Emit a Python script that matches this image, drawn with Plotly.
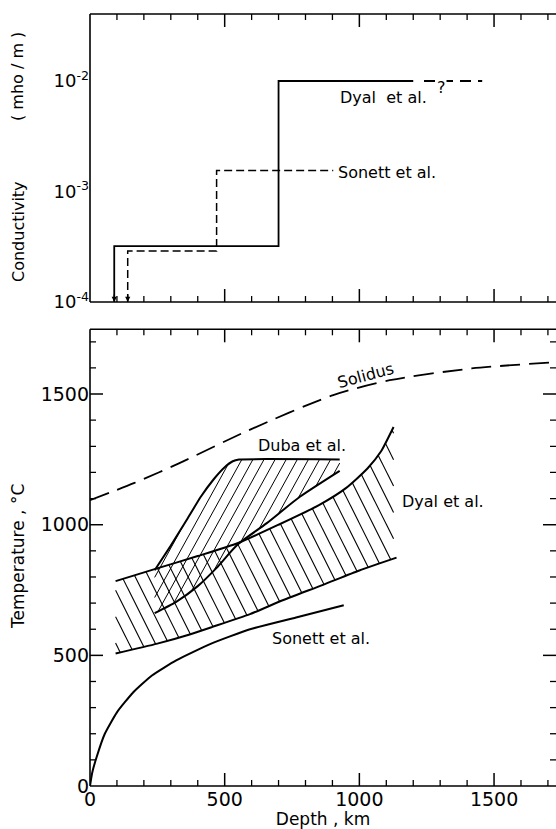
import numpy as np
import plotly.graph_objects as go

# ---------------- data ----------------
# Top panel: conductivity profiles (mho/m) vs depth (km)
dyal_cond_depth = [90, 90, 700, 700, 1200]
dyal_cond = [1e-4, 3.2e-4, 3.2e-4, 1.0e-2, 1.0e-2]
dyal_query_depth = [1240, 1456]
dyal_query_cond = [1.0e-2, 1.0e-2]
sonett_cond_depth = [140, 140, 470, 470, 903]
sonett_cond = [1e-4, 2.9e-4, 2.9e-4, 1.55e-3, 1.55e-3]

# Bottom panel: temperatures (deg C) vs depth (km)
solidus_depth = [0, 165, 330, 586, 903, 1113, 1417, 1730]
solidus_temp = [1094, 1160, 1235, 1360, 1496, 1553, 1598, 1622]

sonett_depth = [0, 8, 25, 55, 100, 160, 230, 320, 450, 591, 765, 942]
sonett_temp = [0, 50, 112, 200, 282, 358, 423, 481, 545, 599, 645, 692]

dyal_upper_depth = [95, 240, 400, 550, 700, 850, 950, 1030, 1080, 1127]
dyal_upper_temp = [784, 830, 880, 930, 1000, 1075, 1140, 1215, 1280, 1374]
dyal_lower_depth = [95, 250, 370, 455, 594, 718, 865, 1000, 1138]
dyal_lower_temp = [507, 545, 580, 609, 658, 712, 770, 825, 874]

duba_upper_depth = [240, 300, 360, 410, 460, 500, 530, 553, 927]
duba_upper_temp = [826, 920, 1020, 1105, 1175, 1220, 1243, 1250, 1250]
duba_lower_depth = [240, 320, 400, 470, 549, 655, 778, 927]
duba_lower_temp = [662, 705, 765, 835, 925, 1005, 1106, 1206]

x_ticks = [0, 500, 1000, 1500]
x_minor_ticks = list(range(100, 1800, 100))
t_ticks = [0, 500, 1000, 1500]
t_minor_ticks = list(range(100, 1800, 100))
cond_ticks = [1e-4, 1e-3, 1e-2]
cond_tick_text = ["10<sup>-4</sup>", "10<sup>-3</sup>", "10<sup>-2</sup>"]
cond_minor = [m * 10.0 ** e for e in (-4, -3, -2) for m in (2, 4, 6, 8)]
cond_minor = [v for v in cond_minor if v < 0.04]

X_RANGE = [0, 1730]
T_RANGE = [0, 1748]
LOG_RANGE = [-4, -1.394]

TOP_DOMAIN = [0.6269, 1.0]
BOT_DOMAIN = [0.0, 0.5916]

FONT = "DejaVu Sans"
BLACK = "black"


def hatch(lo_d, lo_t, up_d, up_t, slope, step, phase=0.0):
    """Clip parallel lines T = a + slope*d to the band lo(d) <= T <= up(d)."""
    d0 = max(lo_d[0], up_d[0])
    d1 = min(lo_d[-1], up_d[-1])
    grid = np.linspace(d0, d1, 4000)
    lo = np.interp(grid, lo_d, lo_t)
    up = np.interp(grid, up_d, up_t)
    a_all = np.concatenate([lo - slope * grid, up - slope * grid])
    a_vals = np.arange(a_all.min() + phase, a_all.max(), step)
    xs, ys = [], []
    for a in a_vals:
        t = a + slope * grid
        idx = np.where((t >= lo) & (t <= up))[0]
        if len(idx) < 2:
            continue
        xs += [grid[idx[0]], grid[idx[-1]], None]
        ys += [t[idx[0]], t[idx[-1]], None]
    return xs, ys


fig = go.Figure()

# ---------------- top panel ----------------
fig.add_trace(go.Scatter(x=dyal_cond_depth, y=dyal_cond, mode="lines",
                         line=dict(color=BLACK, width=1.8), xaxis="x", yaxis="y",
                         showlegend=False, hoverinfo="skip"))
fig.add_trace(go.Scatter(x=dyal_query_depth, y=dyal_query_cond, mode="lines",
                         line=dict(color=BLACK, width=1.8, dash="11px,7px"),
                         xaxis="x", yaxis="y", showlegend=False, hoverinfo="skip"))
fig.add_trace(go.Scatter(x=sonett_cond_depth, y=sonett_cond, mode="lines",
                         line=dict(color=BLACK, width=1.5, dash="8px,4px"),
                         xaxis="x", yaxis="y", showlegend=False, hoverinfo="skip"))

# ---------------- bottom panel ----------------
hx, hy = hatch(dyal_lower_depth, dyal_lower_temp, dyal_upper_depth, dyal_upper_temp,
               slope=-2.06, step=101, phase=40)
fig.add_trace(go.Scatter(x=hx, y=hy, mode="lines", line=dict(color=BLACK, width=1.1),
                         xaxis="x2", yaxis="y2", showlegend=False, hoverinfo="skip"))
hx, hy = hatch(duba_lower_depth, duba_lower_temp, duba_upper_depth, duba_upper_temp,
               slope=1.87, step=77, phase=30)
fig.add_trace(go.Scatter(x=hx, y=hy, mode="lines", line=dict(color=BLACK, width=1.0),
                         xaxis="x2", yaxis="y2", showlegend=False, hoverinfo="skip"))

for dx, ty, sm in [(dyal_upper_depth, dyal_upper_temp, 0.6),
                   (dyal_lower_depth, dyal_lower_temp, 0.6),
                   (duba_upper_depth, duba_upper_temp, 0.3),
                   (duba_lower_depth, duba_lower_temp, 0.6),
                   (sonett_depth, sonett_temp, 0.5)]:
    fig.add_trace(go.Scatter(x=dx, y=ty, mode="lines",
                             line=dict(color=BLACK, width=2, shape="spline", smoothing=sm),
                             xaxis="x2", yaxis="y2", showlegend=False, hoverinfo="skip"))

fig.add_trace(go.Scatter(x=solidus_depth, y=solidus_temp, mode="lines",
                         line=dict(color=BLACK, width=1.8, dash="20px,9px",
                                   shape="spline", smoothing=0.8),
                         xaxis="x2", yaxis="y2", showlegend=False, hoverinfo="skip"))

# ---------------- axes (labels only; tick marks drawn below) ----------------
plain = dict(ticks="", showline=False, showgrid=False, zeroline=False, fixedrange=True)
tf19 = dict(family=FONT, size=19, color=BLACK)

fig.update_layout(
    template="none",
    width=556, height=829,
    margin=dict(l=90, r=0, t=14, b=43),
    paper_bgcolor="white", plot_bgcolor="white",
    font=dict(family=FONT, color=BLACK),
    xaxis=dict(**plain, range=X_RANGE, anchor="y", domain=[0, 1], showticklabels=False),
    yaxis=dict(**plain, type="log", range=LOG_RANGE, domain=TOP_DOMAIN, anchor="x",
               tickmode="array", tickvals=cond_ticks, ticktext=cond_tick_text,
               tickfont=dict(family=FONT, size=18, color=BLACK)),
    xaxis2=dict(**plain, range=X_RANGE, anchor="y2", domain=[0, 1],
                tickmode="array", tickvals=x_ticks, tickfont=tf19,
                title=dict(text="Depth , km", font=dict(family=FONT, size=17, color=BLACK),
                           standoff=6)),
    yaxis2=dict(**plain, range=T_RANGE, domain=BOT_DOMAIN, anchor="x2",
                tickmode="array", tickvals=t_ticks, tickfont=tf19),
)

# frame lines (left, top, bottom) for both panels; the right edge runs off the page
for xr, yr in [("x domain", "y domain"), ("x2 domain", "y2 domain")]:
    for x0, y0, x1, y1 in [(0, 0, 0, 1), (0, 1, 1, 1), (0, 0, 1, 0)]:
        fig.add_shape(type="line", xref=xr, yref=yr, x0=x0, y0=y0, x1=x1, y1=y1,
                      line=dict(color=BLACK, width=1.6))


# inward tick marks on all four edges, placed through the axes' own scales
def vticks(xref, ydom, vals, length, width):
    for v in vals:
        for edge, sign in ((0, 1), (1, -1)):
            fig.add_shape(type="line", xref=xref, yref=ydom, x0=v, x1=v,
                          ysizemode="pixel", yanchor=edge, y0=0, y1=sign * length,
                          line=dict(color=BLACK, width=width))


def hticks(yref, xdom, vals, length, width, to_axis=lambda v: v):
    for v in vals:
        yv = to_axis(v)
        for edge, sign in ((0, 1), (1, -1)):
            fig.add_shape(type="line", xref=xdom, yref=yref, y0=yv, y1=yv,
                          xsizemode="pixel", xanchor=edge, x0=0, x1=sign * length,
                          line=dict(color=BLACK, width=width))


minor_x = [v for v in x_minor_ticks if v not in x_ticks]
minor_t = [v for v in t_minor_ticks if v not in t_ticks]

vticks("x", "y domain", x_ticks[1:], 13, 1.5)
vticks("x", "y domain", minor_x, 6, 1.3)
hticks("y", "x domain", cond_ticks[1:], 17, 1.5, np.log10)
hticks("y", "x domain", cond_minor, 9, 1.3, np.log10)

vticks("x2", "y2 domain", x_ticks[1:], 13, 1.5)
vticks("x2", "y2 domain", minor_x, 6, 1.3)
hticks("y2", "x2 domain", t_ticks[1:], 13, 1.5)
hticks("y2", "x2 domain", minor_t, 6, 1.3)


# ---------------- text ----------------
def label(text, x, y, xref, yref, size=16, angle=0, bg=None):
    fig.add_annotation(text=text, x=x, y=y, xref=xref, yref=yref, showarrow=False,
                       xanchor="center", yanchor="middle",
                       font=dict(family=FONT, size=size, color=BLACK),
                       textangle=angle, bgcolor=bg, borderpad=0)


label("Dyal\u00a0 et al.", 1088, -2.145, "x", "y")
label("Sonett et al.", 1104, -2.824, "x", "y")
label("?", 1305, -2.06, "x", "y", size=16, bg="white")
label("Solidus", 1023, 1570, "x2", "y2", angle=-15)
label("Duba et al.", 787, 1304, "x2", "y2")
label("Dyal et al.", 1312, 1088, "x2", "y2")
label("Sonett et al.", 856, 565, "x2", "y2")

# y-axis titles (paper fractions of the plotting height 772 px)
PX_TITLE = -72 / 466
label("Temperature , \u00b0C", PX_TITLE, (786 - 557) / 772, "paper", "paper", size=17, angle=-90)
label("Conductivity", PX_TITLE, (786 - 232) / 772, "paper", "paper", size=16, angle=-90)
label("( mho / m )", PX_TITLE, (786 - 77) / 772, "paper", "paper", size=16, angle=-90)

# arrowheads at the bottom of the top-panel step lines
for xd in (dyal_cond_depth[0], sonett_cond_depth[0]):
    fig.add_annotation(x=xd, y=-4, xref="x", yref="y", text="", showarrow=True,
                       ax=0, ay=-9, arrowhead=2, arrowsize=0.8, arrowwidth=1.3,
                       arrowcolor=BLACK)

fig.write_html("out.html")
